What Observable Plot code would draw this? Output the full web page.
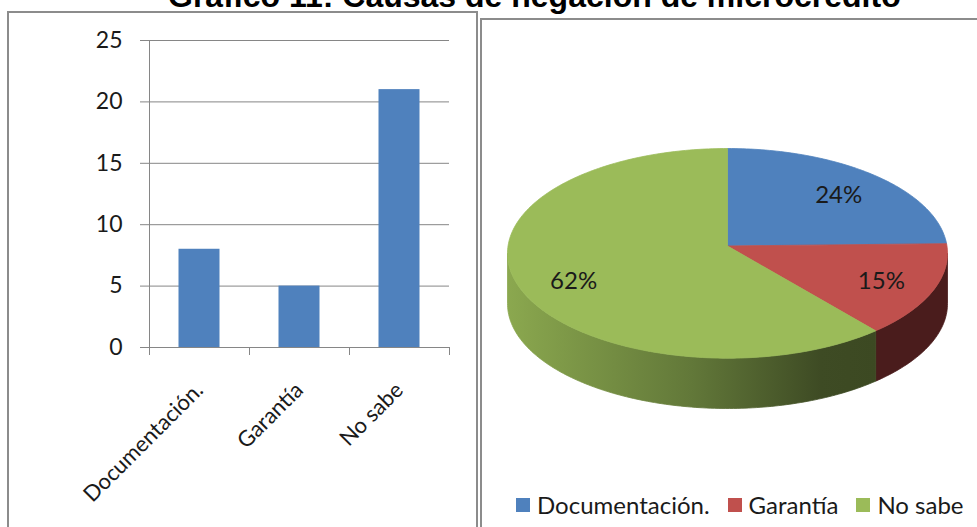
<!DOCTYPE html>
<html><head><meta charset="utf-8">
<script src="https://cdn.jsdelivr.net/npm/d3@7"></script>
<script src="https://cdn.jsdelivr.net/npm/@observablehq/plot@0.6"></script>
<style>
html,body{margin:0;padding:0;background:#fff;}
#root{position:relative;width:977px;height:527px;overflow:hidden;background:#fff;}
#title{position:absolute;left:168px;top:-20px;font-family:"Liberation Sans",Arial,sans-serif;font-weight:bold;font-size:32px;line-height:32px;white-space:nowrap;color:#000;}
.panel{position:absolute;border:2px solid #8c8c8c;box-sizing:border-box;background:#fff;}
#pl{left:7px;top:11px;width:471px;height:600px;}
#pr{left:480px;top:18px;width:600px;height:600px;}
.chart{position:absolute;top:0;}
#bar{left:0;}
#pie{left:480px;}
#legend{position:absolute;left:516px;top:488px;width:700px;font-family:Lato,sans-serif;font-size:24px;color:#1a1a1a;white-space:nowrap;}
#legend div{font-family:Lato,sans-serif !important;font-size:24px !important;color:#1a1a1a !important;margin:0 !important;flex-wrap:nowrap !important;white-space:nowrap !important;}
#legend span{margin-right:18px !important;white-space:nowrap !important;}
#legend span > svg{margin-right:7px !important;}
</style></head><body>
<div id="root">
  <div id="title">Gráfico 11: Causas de negación de microcrédito</div>
  <div class="panel" id="pl"></div>
  <div class="panel" id="pr"></div>
  <div class="chart" id="bar"></div>
  <div class="chart" id="pie"></div>
  <div id="legend"></div>
</div>
<script>
const categories = ["Documentación.", "Garantía", "No sabe"];
const counts = [8, 5, 21];
const pctLabels = ["24%", "15%", "62%"];
const yTicks = [0, 5, 10, 15, 20, 25];
const colors = ["#4f81bd", "#c0504d", "#9bbb59"];
const sideColors = ["#2c4d74", "#4a1c1c", "url(#greenSide)"];

// ---- Bar chart ----
const rows = categories.map((c, i) => ({c, i, v: counts[i]}));
const barFrac = 0.41;
const bar = Plot.plot({
  width: 480, height: 527,
  marginLeft: 149, marginRight: 31, marginTop: 40, marginBottom: 180,
  style: {background: "none", color: "#868686", fontFamily: "Lato", overflow: "visible", maxWidth: "none"},
  x: {domain: [0, categories.length], ticks: d3.range(categories.length + 1), tickSize: 8, tickFormat: () => "", label: null},
  y: {domain: [0, 25], ticks: yTicks, tickSize: 9, tickFormat: () => "", label: null},
  marks: [
    Plot.ruleY(yTicks, {stroke: "#868686"}),
    Plot.ruleX([0], {stroke: "#868686"}),
    Plot.rectY(rows, {x1: d => d.i + (1 - barFrac) / 2, x2: d => d.i + (1 + barFrac) / 2, y: "v", fill: colors[0]}),
    Plot.text(yTicks, {x: 0, y: d => d, text: d => String(d), textAnchor: "end", dx: -27, fill: "#1a1a1a", fontSize: 23}),
    Plot.text(rows, {x: d => d.i + 0.5, y: 0, text: "c", rotate: -45, textAnchor: "end", dx: 0, dy: 39, fill: "#1a1a1a", fontSize: 22})
  ]
});
document.getElementById("bar").appendChild(bar);

// ---- 3D pie ----
const arcs = d3.pie().sort(null).value(d => d)(counts);
const depth = 0.48;
const apexLift = 0.07;
const stepA = Math.PI / 180;
function arcPts(a0, a1, dy) {
  const n = Math.max(2, Math.ceil((a1 - a0) / stepA));
  return d3.range(n + 1).map(k => {
    const a = a0 + (a1 - a0) * k / n;
    return [Math.sin(a), Math.cos(a) - dy];
  });
}
const topPolys = arcs.map(p => [[0, apexLift], ...arcPts(p.startAngle, p.endAngle, 0), [0, apexLift]].map(([x, y]) => ({x, y})));
const sidePolys = arcs.map(p => {
  const s = Math.max(p.startAngle, Math.PI / 2), e = Math.min(p.endAngle, 3 * Math.PI / 2);
  if (e <= s) return [];
  const up = arcPts(s, e, 0), down = arcPts(s, e, depth).reverse();
  return [...up, ...down, up[0]].map(([x, y]) => ({x, y}));
});
const labelF = 0.75;
const labels = arcs.map((p, i) => {
  const m = (p.startAngle + p.endAngle) / 2;
  return {x: labelF * Math.sin(m), y: labelF * Math.cos(m), t: pctLabels[i]};
});
const pie = Plot.plot({
  width: 497, height: 480,
  marginLeft: 27, marginRight: 30, marginTop: 148, marginBottom: 72,
  style: {background: "none", overflow: "visible", maxWidth: "none", fontFamily: "Lato"},
  x: {domain: [-1, 1], axis: null},
  y: {domain: [-1 - depth, 1], axis: null},
  marks: [
    ...sidePolys.map((pts, i) => Plot.line(pts, {x: "x", y: "y", fill: sideColors[i], stroke: sideColors[i], strokeWidth: 0.8, curve: "linear"})),
    ...topPolys.map((pts, i) => Plot.line(pts, {x: "x", y: "y", fill: colors[i], stroke: colors[i], strokeWidth: 0.8, curve: "linear"})),
    Plot.text(labels, {x: "x", y: "y", text: "t", fontSize: 24, fill: "#1a1a1a"})
  ]
});
const defs = d3.select(pie).insert("defs", ":first-child");
const grad = defs.append("linearGradient").attr("id", "greenSide").attr("x1", 0).attr("x2", 1).attr("y1", 0).attr("y2", 0);
[[0, "#8ba84f"], [0.08, "#84a04b"], [0.5, "#627839"], [0.85, "#3e4b24"], [1, "#3c4922"]].forEach(([o, c]) =>
  grad.append("stop").attr("offset", o).attr("stop-color", c));
document.getElementById("pie").appendChild(pie);

// ---- Legend ----
const legend = Plot.legend({
  color: {type: "ordinal", domain: categories, range: colors},
  legend: "swatches", swatchSize: 14,
  style: {fontFamily: "Lato", fontSize: "24px", color: "#1a1a1a"}
});
document.getElementById("legend").appendChild(legend);
</script>
</body></html>
